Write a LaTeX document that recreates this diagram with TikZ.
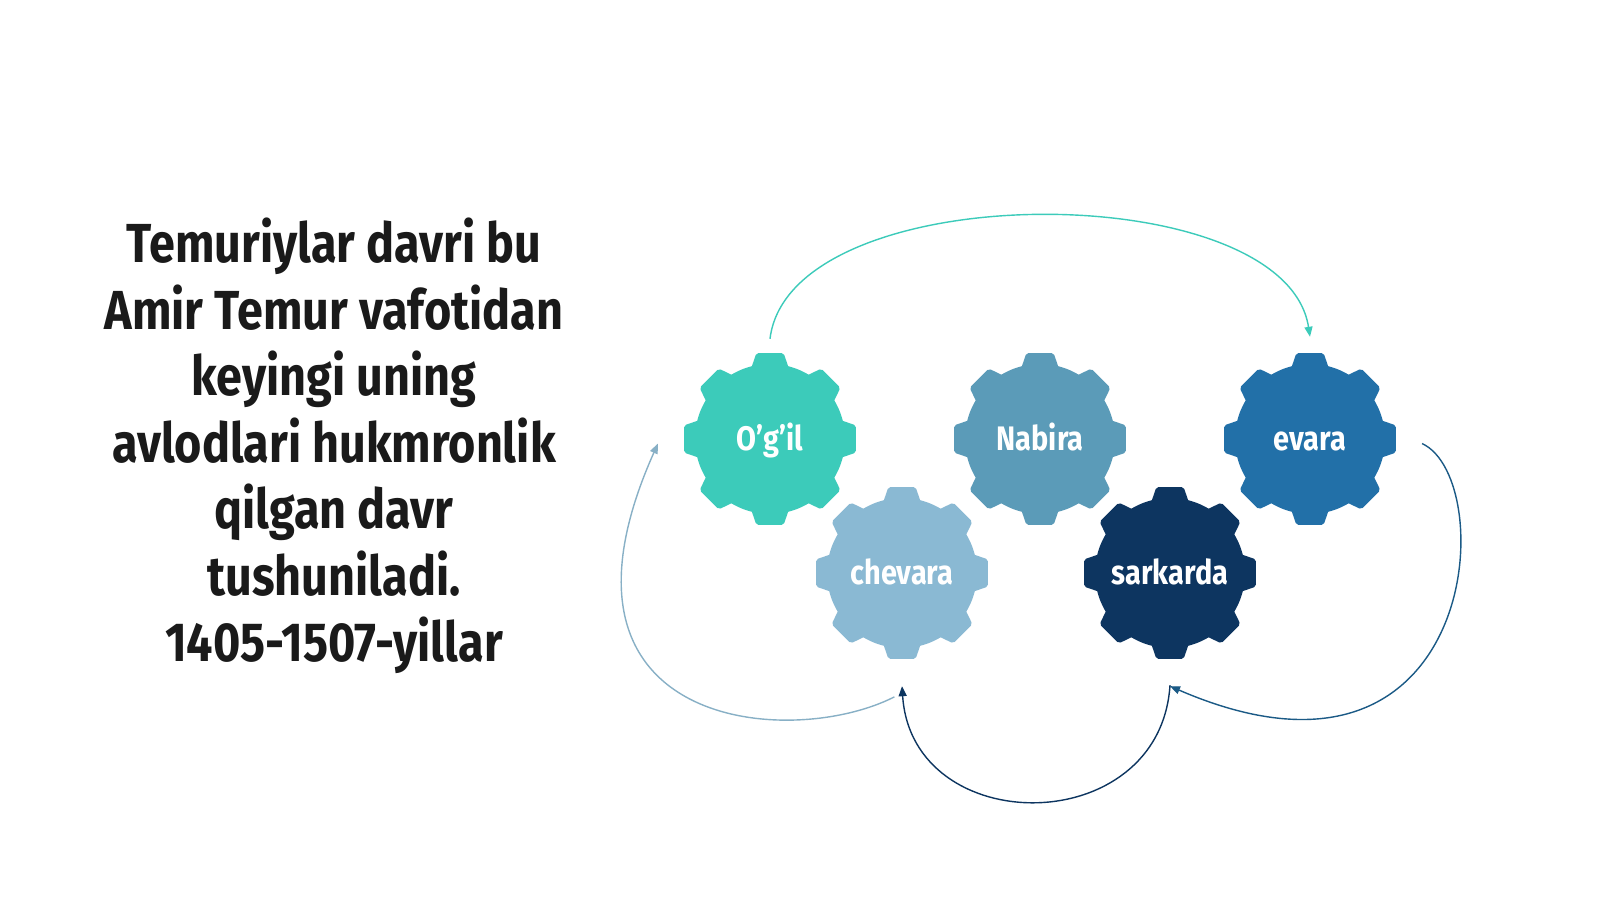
\documentclass[tikz,border=0pt]{standalone}
\usepackage{fontspec}
\usepackage{xcolor}
\usepackage{tikz}
\usetikzlibrary{arrows.meta}
\newfontfamily\firacond{Fira Sans}[FakeStretch=0.85]

\definecolor{ogilcol}{HTML}{3CCBBA}
\definecolor{nabiracol}{HTML}{5B9BB8}
\definecolor{evaracol}{HTML}{2270A8}
\definecolor{chevaracol}{HTML}{8AB9D3}
\definecolor{sarkardacol}{HTML}{0D3560}
\definecolor{textcol}{HTML}{1A1A1A}

% gear body: disc plus eight teeth
\newcommand{\cogwheel}[2]{%
  \fill[#2] (#1) circle (75pt);
  \foreach \a in {0,45,...,315}
    \fill[#2, rounded corners=2pt] ([shift={(#1)}]\a-15:73pt) -- ([shift={(#1)}]\a-9:87pt)
      -- ([shift={(#1)}]\a+9:87pt) -- ([shift={(#1)}]\a+15:73pt) -- cycle;
}

\begin{document}
\begin{tikzpicture}[x=1pt,y=1pt,
  cogtext/.style={circle, minimum size=174pt, inner sep=0pt, text=white,
    font=\firacond\bfseries\fontsize{34pt}{34pt}\selectfont, text height=24pt, text depth=0pt},
  link/.style={line width=1.4pt, -{Triangle[length=10pt,width=8pt]}}]
	% \draw[help lines] (0,0) grid (1600,900);
	\fill[white] (0,0) rectangle (1600,900);
	\useasboundingbox (0,0) rectangle (1600,900);
	% title text
	\node[align=center, text=textcol, anchor=base,
	  font=\firacond\bfseries\fontsize{55pt}{66.5pt}\selectfont] (intro) at (334,238)
	  {Temuriylar davri bu\\Amir Temur vafotidan\\keyingi uning\\avlodlari hukmronlik\\qilgan davr\\tushuniladi.\\1405-1507-yillar};
	% gears
	\cogwheel{770,461}{ogilcol}
	\node[cogtext] (ogil) at (770,461) {O’g’il};
	\cogwheel{1040,461}{nabiracol}
	\node[cogtext] (nabira) at (1040,461) {Nabira};
	\cogwheel{1310,461}{evaracol}
	\node[cogtext] (evara) at (1310,461) {evara};
	\cogwheel{902,327}{chevaracol}
	\node[cogtext] (chevara) at (902,327) {chevara};
	\cogwheel{1170,327}{sarkardacol}
	\node[cogtext] (sarkarda) at (1170,327) {sarkarda};
	% arrows
	\draw[link, ogilcol] ([yshift=13pt]ogil.north) .. controls +(20,164) and +(-25,162) .. ([yshift=15pt]evara.north);
	\draw[link, chevaracol!85!gray] ([yshift=-37pt]chevara.-95) .. controls +(-104,-53) and +(-128,-286) .. ([xshift=-25pt]ogil.183);
	\draw[link, sarkardacol] ([yshift=-25pt]sarkarda.south) .. controls +(-10,-155) and +(10,-154) .. ([yshift=-26pt]chevara.south);
	\draw[link, evaracol!80!black] ([xshift=25pt]evara.-3) .. controls +(78,-36) and +(310,-134) .. ([yshift=-26pt]sarkarda.south);
\end{tikzpicture}
\end{document}
